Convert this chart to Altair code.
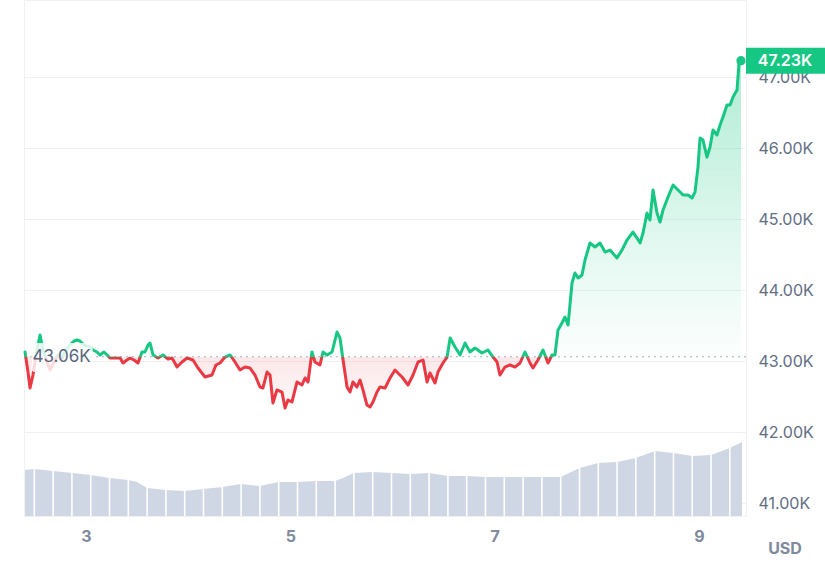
import altair as alt
import pandas as pd

# ---------------- data (BTC / USD, days of January) ----------------
price_day = [
    2.403, 2.432, 2.452, 2.481, 2.511, 2.550, 2.579, 2.618, 2.648, 2.687,
    2.726, 2.765, 2.804, 2.843, 2.883, 2.912, 2.941, 2.980, 3.039, 3.068,
    3.108, 3.137, 3.176, 3.206, 3.235, 3.284, 3.333, 3.362, 3.401, 3.431,
    3.470, 3.509, 3.548, 3.577, 3.607, 3.626,
    3.656, 3.705, 3.754, 3.803, 3.842, 3.891, 3.940, 3.989, 4.047, 4.096,
    4.165, 4.233, 4.272, 4.312, 4.361, 4.410, 4.458, 4.507, 4.556, 4.605,
    4.654, 4.703, 4.732, 4.772, 4.801, 4.830, 4.869,
    4.918, 4.948, 4.977, 5.016, 5.065, 5.114, 5.144, 5.173, 5.212, 5.241,
    5.290, 5.320, 5.359, 5.408, 5.457, 5.486, 5.516, 5.555, 5.584, 5.613,
    5.652, 5.682, 5.711, 5.750, 5.780, 5.809, 5.848, 5.877, 5.927, 5.976,
    6.024, 6.073,
    6.093, 6.152, 6.201, 6.250, 6.299, 6.338, 6.367, 6.416, 6.445, 6.494,
    6.534, 6.564, 6.612, 6.661, 6.710, 6.758, 6.807, 6.876, 6.935, 6.984,
    7.023, 7.052, 7.101, 7.150, 7.199, 7.248,
    7.297, 7.346, 7.375, 7.424, 7.473, 7.522, 7.561, 7.590, 7.620, 7.659,
    7.688, 7.718, 7.757, 7.786, 7.816, 7.855, 7.884, 7.933, 7.982, 8.031,
    8.080, 8.129, 8.197, 8.246, 8.295, 8.354, 8.393, 8.423,
    8.452, 8.491, 8.520, 8.550, 8.589, 8.618, 8.648, 8.697, 8.746, 8.795,
    8.844, 8.893, 8.932, 8.961, 8.990, 9.010, 9.039, 9.078, 9.108, 9.137,
    9.176, 9.206, 9.235, 9.274, 9.304, 9.333, 9.372, 9.392, 9.411,
]
price_usd = [
    43127, 42845, 42620, 42803, 43085, 43366, 43155, 42986, 42873, 42986,
    43085, 43042, 43155, 43225, 43282, 43296, 43282, 43225, 43197, 43155,
    43127, 43085, 43127, 43085, 43042, 43042, 43042, 42972, 43014, 43042,
    43014, 42972, 43127, 43127, 43225, 43254,
    43085, 43042, 43085, 43028, 43042, 42915, 42986, 43042, 43014, 42901,
    42775, 42803, 42944, 42972, 43056, 43085, 42986, 42873, 42915, 42901,
    42803, 42634, 42620, 42845, 42803, 42408, 42592,
    42563, 42338, 42451, 42423, 42704, 42662, 42761, 42704, 43127, 42986,
    42944, 43127, 43085, 43127, 43408, 43324, 43014, 42634, 42563, 42704,
    42634, 42732, 42592, 42380, 42352, 42423, 42563, 42634, 42620, 42761,
    42873, 42803,
    42775, 42662, 42803, 42986, 43014, 42704, 42831, 42690, 42845, 42972,
    43056, 43324, 43197, 43085, 43254, 43127, 43183, 43113, 43155, 43056,
    42986, 42803, 42915, 42944, 42915, 42972,
    43127, 42972, 42901, 43014, 43155, 42972, 43085, 43085, 43437, 43535,
    43620, 43507, 44099, 44239, 44169, 44211, 44423, 44662, 44606, 44662,
    44535, 44563, 44451, 44563, 44704, 44817, 44732, 44662,
    44803, 45085, 44986, 45409, 45085, 44958, 45127, 45310, 45479, 45409,
    45338, 45338, 45296, 45380, 45732, 46141, 46113, 45873, 46014, 46254,
    46183, 46324, 46437, 46606, 46606, 46718, 46817, 47211, 47230,
]

vol_day = [
    2.403, 2.494, 2.678, 2.862, 3.046, 3.230, 3.414, 3.499, 3.598, 3.782,
    3.966, 4.150, 4.334, 4.518, 4.702, 4.886, 5.070, 5.254, 5.438, 5.516,
    5.622, 5.806, 5.990, 6.174, 6.358, 6.542, 6.726, 6.910, 7.094, 7.278,
    7.462, 7.646, 7.830, 8.014, 8.198, 8.382, 8.566, 8.750, 8.934, 9.118,
    9.302, 9.421,
]
vol_usd_bn = [
    17.8, 18.2, 17.4, 16.7, 15.9, 14.7, 14.0, 13.2, 10.9, 10.1,
    9.7, 10.5, 11.2, 12.4, 11.6, 13.2, 13.2, 13.6, 13.6, 14.7,
    16.7, 17.1, 16.7, 16.3, 16.7, 15.5, 15.5, 15.1, 15.1, 15.1,
    15.1, 15.1, 18.6, 20.5, 20.9, 22.5, 25.2, 24.4, 23.3, 23.6,
    26.4, 28.7,
]
bar_sep_day = [
    2.494, 2.678, 2.862, 3.046, 3.230, 3.414, 3.598, 3.782, 3.966, 4.150,
    4.334, 4.518, 4.702, 4.886, 5.070, 5.254, 5.438, 5.622, 5.806, 5.990,
    6.174, 6.358, 6.542, 6.726, 6.910, 7.094, 7.278, 7.462, 7.646, 7.830,
    8.014, 8.198, 8.382, 8.566, 8.750, 8.934, 9.118, 9.302,
]

x_ticks = [3, 5, 7, 9]
y_ticks = [41000, 42000, 43000, 44000, 45000, 46000, 47000]
BASE = 43060
LAST = price_usd[-1]
base_label = f"{BASE / 1000:.2f}K"
last_label = f"{LAST / 1000:.2f}K"

# ---------------- layout / style ----------------
W, H = 722, 516
X_DOMAIN = [2.393, 9.460]
Y_DOMAIN = [40817, 48085]
VOL_DOMAIN = [0, 200]
FONT = "Inter"
GREEN = "#16c784"
RED = "#ea3943"

pmax, pmin = max(price_usd), min(price_usd)
t = (pmax - BASE) / (pmax - pmin)

df = pd.DataFrame({"day": price_day, "price": price_usd})
df["base"] = BASE
last_df = df.tail(1).copy()
last_df["top"] = last_df["price"] + 183
last_df["bot"] = last_df["price"] - 183
last_df["label"] = last_label

base_df = pd.DataFrame({"base": [BASE], "label": [base_label], "day": [2.476],
                        "bx0": [2.466], "bx1": [3.066], "by0": [43254], "by1": [42845]})

vdf = pd.DataFrame({"day": vol_day, "vol": vol_usd_bn})
sdf = pd.DataFrame({"day": bar_sep_day})
sdf["v0"] = 0
sdf["v1"] = 30

xscale = alt.Scale(domain=X_DOMAIN, nice=False, zero=False)
xaxis = alt.Axis(values=x_ticks, format="d", title=None, grid=False, ticks=False,
                 domain=False, labelFont=FONT, labelFontSize=16, labelFontWeight="bold",
                 labelColor="#808a9d", labelPadding=12)
yscale = alt.Scale(domain=Y_DOMAIN, nice=False, zero=False)
yaxis = alt.Axis(orient="right", values=y_ticks, title=None,
                 labelExpr="format(datum.value / 1000, '.2f') + 'K'",
                 grid=True, gridColor="#eff2f5", gridWidth=1, ticks=False, domain=False,
                 labelFont=FONT, labelFontSize=16, labelColor="#616e85", labelPadding=12)
vscale = alt.Scale(domain=VOL_DOMAIN, nice=False, zero=True)


def X(field="day"):
    return alt.X(f"{field}:Q", scale=xscale, axis=xaxis)


def Y(field):
    return alt.Y(f"{field}:Q", scale=yscale, axis=yaxis)


fill_grad = alt.Gradient(
    gradient="linear", x1=0, x2=0, y1=0, y2=1,
    stops=[
        alt.GradientStop(color="rgba(22,199,132,0.34)", offset=0),
        alt.GradientStop(color="rgba(22,199,132,0.13)", offset=t * 0.6),
        alt.GradientStop(color="rgba(22,199,132,0.01)", offset=t),
        alt.GradientStop(color="rgba(234,57,67,0.12)", offset=t),
        alt.GradientStop(color="rgba(234,57,67,0.03)", offset=1),
    ],
)
line_grad = alt.Gradient(
    gradient="linear", x1=0, x2=0, y1=0, y2=1,
    stops=[
        alt.GradientStop(color=GREEN, offset=0),
        alt.GradientStop(color=GREEN, offset=t),
        alt.GradientStop(color=RED, offset=t),
        alt.GradientStop(color=RED, offset=1),
    ],
)

area = alt.Chart(df).mark_area(color=fill_grad, interpolate="linear").encode(
    x=X(), y=Y("price"), y2="base:Q")

baseline = alt.Chart(base_df).mark_rule(color="#a6b0c3", strokeDash=[2, 4], strokeWidth=1).encode(
    y=Y("base"))

line = alt.Chart(df).mark_line(stroke=line_grad, strokeWidth=3, strokeJoin="round",
                               strokeCap="round", interpolate="linear").encode(
    x=X(), y=Y("price"))

label_box = alt.Chart(base_df).mark_rect(color="white", opacity=0.82, cornerRadius=3).encode(
    x=X("bx0"), x2="bx1:Q", y=Y("by0"), y2="by1:Q")

label_text = alt.Chart(base_df).mark_text(align="left", baseline="middle", font=FONT,
                                          fontSize=17, color="#58667e").encode(
    x=X(), y=Y("base"), text="label:N")

dot = alt.Chart(last_df).mark_circle(color=GREEN, size=85, opacity=1).encode(
    x=X(), y=Y("price"))

badge = alt.Chart(last_df).mark_rect(color=GREEN).encode(
    x=alt.value(W), x2=alt.value(W + 79), y=Y("top"), y2="bot:Q")

badge_text = alt.Chart(last_df).mark_text(align="center", baseline="middle", font=FONT,
                                          fontSize=16, fontWeight=600, color="white").encode(
    x=alt.value(W + 39), y=Y("price"), text="label:N")

usd = alt.Chart(pd.DataFrame({"t": ["USD"]})).mark_text(
    align="center", baseline="middle", font=FONT, fontSize=16, fontWeight="bold",
    color="#808a9d").encode(x=alt.value(W + 39), y=alt.value(H + 33), text="t:N")

vol_area = alt.Chart(vdf).mark_area(color="#cfd6e4", interpolate="linear").encode(
    x=X(), y=alt.Y("vol:Q", scale=vscale, axis=None))
vol_sep = alt.Chart(sdf).mark_rule(color="white", strokeWidth=1.6).encode(
    x=X(), y=alt.Y("v0:Q", scale=vscale, axis=None), y2="v1:Q")

volume = alt.layer(vol_area, vol_sep)
price = alt.layer(area, baseline, line, label_box, label_text, dot, badge, badge_text, usd)

chart = alt.layer(volume, price).resolve_scale(y="independent").properties(
    width=W, height=H,
    padding={"left": 24, "top": 0, "right": 79, "bottom": 62},
    autosize=alt.AutoSizeParams(type="none"),
    background="white",
).configure_view(stroke="#eff2f5", strokeWidth=1)

chart.save("out.html", embed_options={"renderer": "svg", "actions": False})
